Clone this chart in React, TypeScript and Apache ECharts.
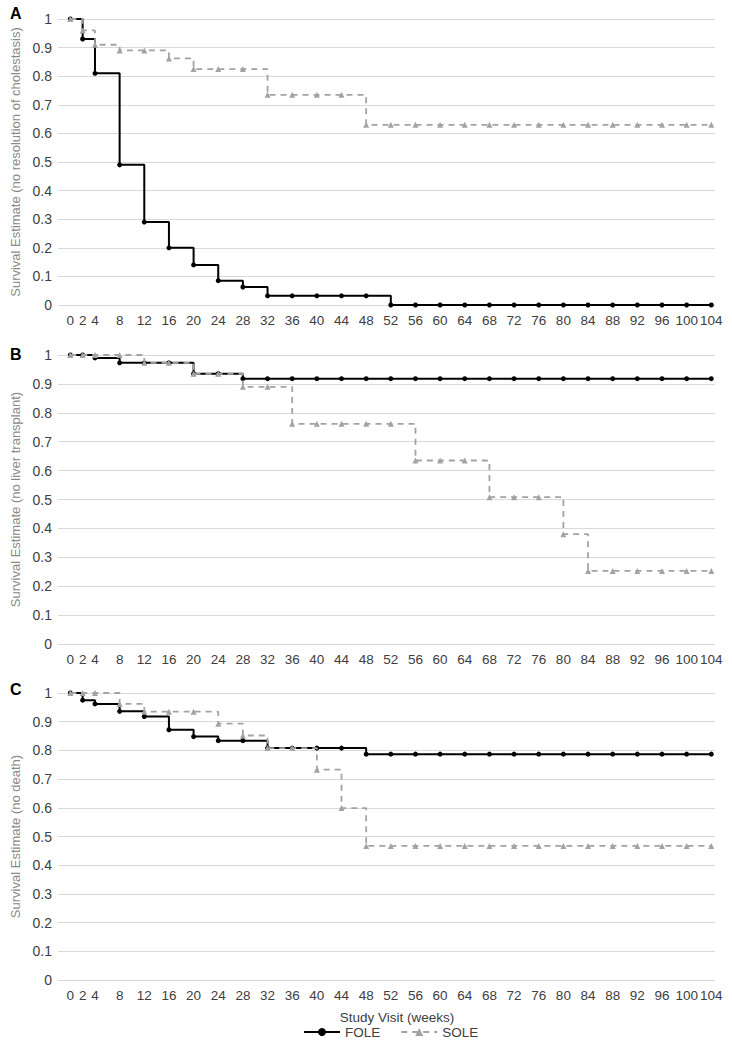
import React, { useEffect, useRef } from "react";
import * as echarts from "echarts";

const weeks = [0, 2, 4, 8, 12, 16, 20, 24, 28, 32, 36, 40, 44, 48, 52, 56, 60, 64, 68, 72, 76, 80, 84, 88, 92, 96, 100, 104];

const seriesNames = ["FOLE", "SOLE"];

const panelA_FOLE = [1, 0.93, 0.81, 0.49, 0.29, 0.2, 0.14, 0.085, 0.063, 0.032, 0.032, 0.032, 0.032, 0.032, 0, 0, 0, 0, 0, 0, 0, 0, 0, 0, 0, 0, 0, 0];
const panelA_SOLE = [1, 0.96, 0.91, 0.89, 0.89, 0.862, 0.825, 0.825, 0.825, 0.735, 0.735, 0.735, 0.735, 0.63, 0.63, 0.63, 0.63, 0.63, 0.63, 0.63, 0.63, 0.63, 0.63, 0.63, 0.63, 0.63, 0.63, 0.63];

const panelB_FOLE = [1, 1, 0.99, 0.973, 0.973, 0.973, 0.935, 0.935, 0.918, 0.918, 0.918, 0.918, 0.918, 0.918, 0.918, 0.918, 0.918, 0.918, 0.918, 0.918, 0.918, 0.918, 0.918, 0.918, 0.918, 0.918, 0.918, 0.918];
const panelB_SOLE = [1, 1, 1, 1, 0.973, 0.973, 0.935, 0.935, 0.89, 0.89, 0.762, 0.762, 0.762, 0.762, 0.762, 0.635, 0.635, 0.635, 0.508, 0.508, 0.508, 0.38, 0.253, 0.253, 0.253, 0.253, 0.253, 0.253];

const panelC_FOLE = [1, 0.975, 0.962, 0.936, 0.918, 0.872, 0.848, 0.834, 0.834, 0.808, 0.808, 0.808, 0.808, 0.787, 0.787, 0.787, 0.787, 0.787, 0.787, 0.787, 0.787, 0.787, 0.787, 0.787, 0.787, 0.787, 0.787, 0.787];
const panelC_SOLE = [1, 1, 1, 0.962, 0.935, 0.935, 0.935, 0.893, 0.852, 0.808, 0.808, 0.733, 0.599, 0.467, 0.467, 0.467, 0.467, 0.467, 0.467, 0.467, 0.467, 0.467, 0.467, 0.467, 0.467, 0.467, 0.467, 0.467];

const panelLetters = ["A", "B", "C"];
const yAxisNames = [
  "Survival Estimate (no resolution of cholestasis)",
  "Survival Estimate (no liver transplant)",
  "Survival Estimate (no death)",
];
const xAxisTitle = "Study Visit (weeks)";

const FONT = '"Liberation Sans", Arial, Helvetica, sans-serif';
const TEXT = "#404040";
const GRAY = "#a3a3a3";

export default function App() {
  const ref = useRef<HTMLDivElement>(null);
  useEffect(() => {
    if (!ref.current) return;
    const chart = echarts.init(ref.current, undefined, { renderer: "svg" });
    const panels = [
      { fole: panelA_FOLE, sole: panelA_SOLE, top: 19, height: 286 },
      { fole: panelB_FOLE, sole: panelB_SOLE, top: 355, height: 289 },
      { fole: panelC_FOLE, sole: panelC_SOLE, top: 693, height: 287 },
    ];
    const grids = panels.map((p) => ({ left: 58, right: 17, top: p.top, height: p.height }));
    const xAxes = panels.map((_, i) => ({
      type: "value",
      gridIndex: i,
      min: -2,
      max: 104.6,
      axisLine: { show: false },
      axisTick: { show: false },
      splitLine: { show: false },
      axisLabel: { customValues: weeks, color: TEXT, fontSize: 13.5, margin: 8, fontFamily: FONT },
    }));
    const yAxes = panels.map((_, i) => ({
      type: "value",
      gridIndex: i,
      min: 0,
      max: 1,
      interval: 0.1,
      name: yAxisNames[i],
      nameLocation: "middle",
      nameGap: 34,
      nameTextStyle: { color: "#8a8a8a", fontSize: 13, fontFamily: FONT },
      axisLine: { show: false },
      axisTick: { show: false },
      splitLine: { lineStyle: { color: "#d9d9d9", width: 1 } },
      axisLabel: { color: TEXT, fontSize: 14, margin: 6, fontFamily: FONT },
    }));
    const series: any[] = [];
    panels.forEach((p, i) => {
      series.push({
        name: seriesNames[0],
        type: "line",
        step: "end",
        xAxisIndex: i,
        yAxisIndex: i,
        data: weeks.map((w, k) => [w, p.fole[k]]),
        symbol: "circle",
        symbolSize: 5,
        lineStyle: { color: "#000", width: 2 },
        itemStyle: { color: "#000" },
        z: 3,
      });
      series.push({
        name: seriesNames[1],
        type: "line",
        step: "end",
        xAxisIndex: i,
        yAxisIndex: i,
        data: weeks.map((w, k) => [w, p.sole[k]]),
        symbol: "triangle",
        symbolSize: 6,
        lineStyle: { color: GRAY, width: 1.8, type: [6, 5] },
        itemStyle: { color: GRAY },
        z: 4,
      });
    });
    const letterY = [13, 354, 689];
    chart.setOption({
      animation: false,
      backgroundColor: "#fff",
      grid: grids,
      xAxis: xAxes,
      yAxis: yAxes,
      series,
      legend: {
        data: seriesNames,
        left: 298,
        top: 1020,
        itemWidth: 36,
        itemHeight: 10,
        itemGap: 20,
        textStyle: { color: TEXT, fontSize: 13.5, fontFamily: FONT },
      },
      graphic: [
        ...panelLetters.map((l, i) => ({
          type: "text",
          left: 10,
          top: letterY[i] - 8,
          style: { text: l, fill: "#000", font: `bold 16px ${FONT}` },
        })),
        {
          type: "text",
          x: 397,
          y: 1017,
          style: { text: xAxisTitle, fill: TEXT, font: `13.5px ${FONT}`, align: "center", verticalAlign: "middle" },
        },
      ],
    });
    return () => chart.dispose();
  }, []);
  return (
    <div
      ref={ref}
      style={{ position: "absolute", left: 0, top: 0, width: 732, height: 1050, background: "#fff" }}
    />
  );
}
